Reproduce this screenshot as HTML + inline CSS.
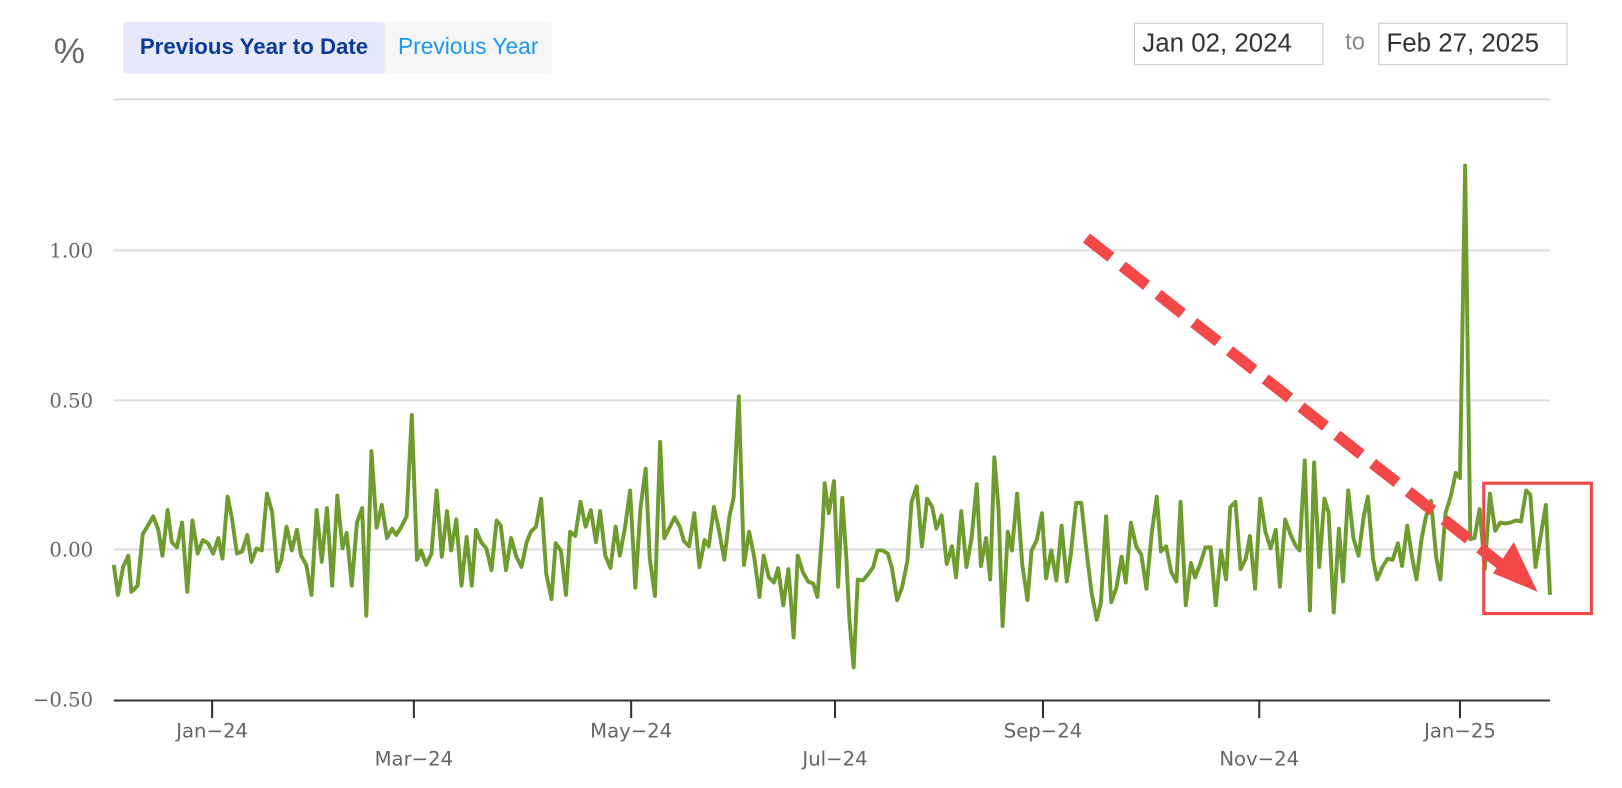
<!DOCTYPE html>
<html><head><meta charset="utf-8"><style>
body{margin:0;width:1622px;height:788px;background:#fff;overflow:hidden;font-family:"Liberation Sans",sans-serif;position:relative}
#w{position:absolute;left:0;top:0;width:1560px;height:758px;transform:scale(1.0347,1.0347);transform-origin:0 0}
.b1{position:absolute;left:119px;top:21px;width:253px;height:50px;background:#e6e9fb;border-radius:3px;color:#0b3a9a;font-weight:bold;font-size:21.5px;line-height:48px;text-align:center;white-space:nowrap}
.b2{position:absolute;left:372px;top:21px;width:161px;height:50px;background:#f6f6f6;border-radius:3px;color:#1a98f0;font-size:22px;line-height:48px;text-align:center;white-space:nowrap}
.d{position:absolute;top:22px;height:41px;border:1px solid #ccc;font-size:25px;line-height:39px;color:#333;padding-left:7px;box-sizing:border-box;white-space:nowrap}
</style></head><body><div id="w">
<div style="position:absolute;left:52px;top:31px;font-size:34px;color:#666">%</div>
<div class="b1">Previous Year to Date</div>
<div class="b2">Previous Year</div>
<div class="d" style="left:1096px;width:183px">Jan 02, 2024</div>
<div style="position:absolute;left:1300px;top:27px;font-size:23px;color:#888">to</div>
<div class="d" style="left:1332px;width:183px">Feb 27, 2025</div>
<svg width="1560" height="758" style="position:absolute;left:0;top:0">
<g stroke="#dedede" stroke-width="2"><line x1="110" y1="96" x2="1498" y2="96"/><line x1="110" y1="242" x2="1498" y2="242"/><line x1="110" y1="387" x2="1498" y2="387"/><line x1="110" y1="531" x2="1498" y2="531"/></g>
<line x1="110" y1="677" x2="1498" y2="677" stroke="#333" stroke-width="2"/>
<g stroke="#333" stroke-width="2"><line x1="205" y1="677" x2="205" y2="694"/><line x1="400" y1="677" x2="400" y2="694"/><line x1="610" y1="677" x2="610" y2="694"/><line x1="807" y1="677" x2="807" y2="694"/><line x1="1008" y1="677" x2="1008" y2="694"/><line x1="1217" y1="677" x2="1217" y2="694"/><line x1="1411" y1="677" x2="1411" y2="694"/></g>
<g font-family="DejaVu Serif,serif" font-size="19" fill="#666" text-anchor="end"><text x="90" y="249">1.00</text><text x="90" y="394">0.50</text><text x="90" y="538">0.00</text><text x="90" y="683">−0.50</text></g>
<g font-family="DejaVu Sans,sans-serif" font-size="19" fill="#666" text-anchor="middle"><text x="205" y="713">Jan−24</text><text x="400" y="740">Mar−24</text><text x="610" y="713">May−24</text><text x="807" y="740">Jul−24</text><text x="1008" y="713">Sep−24</text><text x="1217" y="740">Nov−24</text><text x="1411" y="713">Jan−25</text></g>
<polyline fill="none" stroke="#6e9c2e" stroke-width="3.8" stroke-linejoin="round" points="110,546 114,575 119,548 124,537 127,572 133,566 138,516 143,508 148,499 153,512 157,537 162,493 166,524 171,529 176,505 181,572 186,503 191,535 196,522 201,525 206,535 211,520 215,540 220,480 224,500 229,535 234,533 239,517 243,543 248,530 253,532 258,477 263,495 268,552 272,541 277,509 282,532 287,512 291,537 296,546 301,575 306,493 311,543 316,491 321,566 326,479 331,530 335,515 340,566 345,505 350,491 354,595 359,436 364,510 369,488 374,520 379,511 383,517 388,509 393,499 398,401 403,541 407,532 412,546 417,535 422,474 427,538 432,494 436,532 441,502 446,566 451,519 456,566 460,512 465,524 470,530 475,551 480,503 484,508 489,551 494,520 499,538 504,548 509,524 513,514 518,509 523,482 528,555 533,579 537,525 542,532 547,575 551,514 556,518 561,485 566,509 571,493 576,524 580,494 585,537 590,549 595,509 599,537 604,510 609,474 614,568 619,491 624,453 628,540 633,576 638,427 642,520 647,510 652,500 657,509 661,523 666,528 671,496 676,548 681,522 685,528 690,490 695,513 700,541 705,499 709,481 714,383 719,546 724,514 729,539 734,577 738,537 743,558 748,563 752,549 757,585 762,550 767,616 771,537 776,553 781,562 786,564 790,577 795,510 797,467 801,496 806,465 810,567 814,481 818,540 821,600 825,645 829,560 834,561 839,555 844,548 848,532 853,532 858,535 862,549 867,580 872,567 877,542 881,485 886,470 891,528 896,482 901,490 905,511 910,498 915,545 920,528 924,558 929,494 934,548 939,520 944,468 948,547 953,520 957,560 961,442 965,491 969,605 974,514 978,532 983,477 988,546 993,580 997,532 1002,522 1007,496 1011,559 1016,532 1021,561 1026,508 1031,562 1035,535 1040,486 1045,486 1050,532 1055,573 1060,599 1064,582 1069,499 1074,582 1079,568 1084,538 1088,563 1093,505 1098,528 1103,536 1108,569 1113,516 1118,480 1122,533 1127,528 1132,553 1137,562 1141,485 1146,585 1151,544 1155,558 1160,545 1165,529 1170,529 1175,585 1180,532 1185,560 1189,490 1194,485 1199,550 1204,540 1208,518 1213,569 1218,482 1223,514 1228,530 1233,512 1237,567 1242,502 1247,516 1252,527 1256,532 1261,445 1266,590 1270,447 1275,548 1280,482 1284,495 1289,592 1294,511 1298,562 1303,474 1308,520 1313,537 1318,499 1322,480 1327,540 1331,560 1336,548 1341,540 1346,541 1351,525 1355,547 1360,508 1365,540 1369,560 1374,520 1378,500 1383,484 1388,538 1392,560 1397,496 1402,480 1407,457 1411,462 1416,160 1421,521 1425,520 1430,492 1435,550 1440,477 1445,513 1450,505 1455,506 1460,505 1465,503 1470,504 1475,474 1479,478 1484,548 1489,518 1494,488 1498,575"/>
<rect x="1434" y="467" width="104" height="126" fill="none" stroke="#f04848" stroke-width="3"/>
<line x1="1050" y1="230" x2="1455" y2="549" stroke="#f44848" stroke-width="11" stroke-dasharray="30,14"/>
<polygon points="1486,572 1463,524 1443,554" fill="#f44848"/>
</svg>
</div></body></html>
